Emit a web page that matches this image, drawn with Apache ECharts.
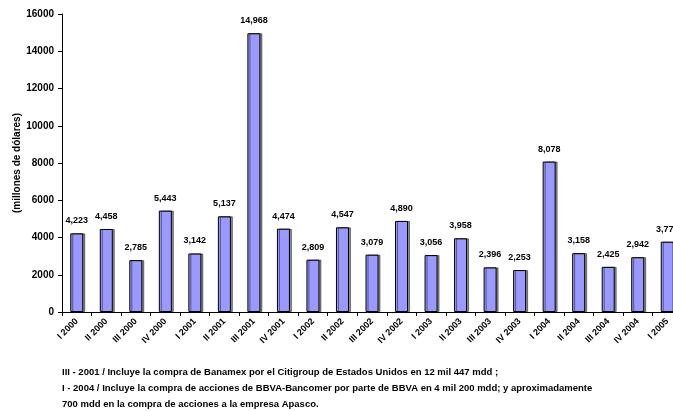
<!DOCTYPE html>
<html>
<head>
<meta charset="utf-8">
<script src="https://cdn.jsdelivr.net/npm/echarts@6/dist/echarts.min.js"></script>
<style>
  html, body { margin: 0; padding: 0; background: #fff; }
  #chart { width: 673px; height: 411px; }
</style>
</head>
<body>
<div id="chart"></div>
<script>
// trimestres y flujos de inversión (millones de dólares)
const categories = [
  'I 2000', 'II 2000', 'III 2000', 'IV 2000',
  'I 2001', 'II 2001', 'III 2001', 'IV 2001',
  'I 2002', 'II 2002', 'III 2002', 'IV 2002',
  'I 2003', 'II 2003', 'III 2003', 'IV 2003',
  'I 2004', 'II 2004', 'III 2004', 'IV 2004',
  'I 2005'
]
const values = [
  4223, 4458, 2785, 5443,
  3142, 5137, 14968, 4474,
  2809, 4547, 3079, 4890,
  3056, 3958, 2396, 2253,
  8078, 3158, 2425, 2942,
  3775
]
const notes = [
  'III - 2001 / Incluye la compra de Banamex por el Citigroup de Estados Unidos en 12 mil 447 mdd ;',
  'I - 2004 / Incluye la compra de acciones de BBVA-Bancomer por parte de BBVA en 4 mil 200 mdd; y aproximadamente',
  '700 mdd en la compra de acciones a la empresa Apasco.'
]

const font = 'Liberation Sans, Arial, sans-serif'
const chart = echarts.init(document.getElementById('chart'))

const options = {
  animation: false,
  grid: {
    left: 62,
    right: -9,
    top: 14,
    bottom: 99,
    containLabel: false,
    outerBoundsMode: 'none'
  },
  xAxis: {
    type: 'category',
    data: categories,
    axisLine: { lineStyle: { color: '#000', width: 1 } },
    axisTick: { show: true, length: 4, lineStyle: { color: '#000' } },
    axisLabel: {
      rotate: 45,
      interval: 0,
      margin: 8,
      fontFamily: font,
      fontSize: 9,
      fontWeight: 'bold',
      color: '#000'
    }
  },
  yAxis: {
    type: 'value',
    min: 0,
    max: 16000,
    interval: 2000,
    name: '(millones de dólares)',
    nameLocation: 'middle',
    nameGap: 40,
    nameMoveOverlap: false,
    nameTextStyle: {
      fontFamily: font,
      fontSize: 10,
      fontWeight: 'bold',
      color: '#000'
    },
    axisLine: { show: true, lineStyle: { color: '#000', width: 1 } },
    axisTick: { show: true, length: 4, lineStyle: { color: '#000' } },
    splitLine: { show: false },
    axisLabel: {
      margin: 8,
      fontFamily: font,
      fontSize: 10,
      fontWeight: 'bold',
      color: '#000',
      formatter: v => String(v)
    }
  },
  series: [
    {
      type: 'bar',
      data: values,
      barWidth: 13,
      itemStyle: {
        color: '#9999FF',
        borderColor: '#000',
        borderWidth: 1,
        shadowColor: 'rgba(0,0,0,0.45)',
        shadowOffsetX: 2,
        shadowOffsetY: 0,
        shadowBlur: 0
      },
      label: {
        show: true,
        position: 'top',
        distance: 8,
        fontFamily: font,
        fontSize: 9,
        fontWeight: 'bold',
        color: '#000',
        formatter: p => p.value.toLocaleString('en-US')
      }
    }
  ],
  graphic: notes.map((t, i) => ({
    type: 'text',
    left: 62,
    top: 367 + i * 16,
    style: {
      text: t,
      fontFamily: font,
      fontSize: 9.5,
      fontWeight: 'bold',
      fill: '#000'
    }
  }))
}

chart.setOption(options)
</script>
</body>
</html>
